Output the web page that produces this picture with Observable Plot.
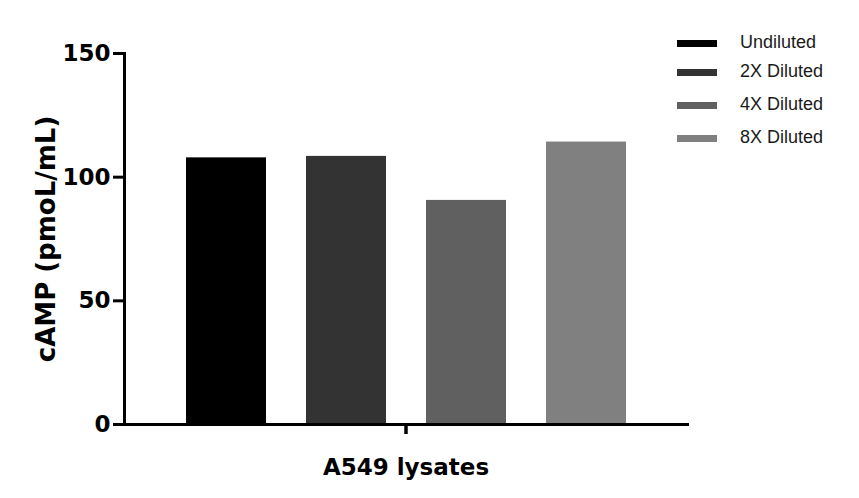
<!DOCTYPE html>
<html>
<head>
<meta charset="utf-8">
<script src="https://cdn.jsdelivr.net/npm/d3@7"></script>
<script src="https://cdn.jsdelivr.net/npm/@observablehq/plot@0.6"></script>
<style>
  html, body { margin: 0; padding: 0; background: #fff; }
  #wrap { position: relative; width: 859px; height: 498px; }
  #legend { position: absolute; left: 0; top: 0; font-family: "Liberation Sans", Arial, sans-serif; font-size: 18px; color: #1a1a1a; }
  .item { position: absolute; white-space: nowrap; }
  .sw { position: absolute; width: 40px; height: 7px; }
</style>
</head>
<body>
<div id="wrap"><div id="legend"></div></div>
<script>
const group = "A549 lysates";
const series = ["Undiluted", "2X Diluted", "4X Diluted", "8X Diluted"];
const values = [107.8, 108.4, 90.6, 114.2];
const colors = ["#000000", "#333333", "#606060", "#808080"];
const yTicks = [0, 50, 100, 150];
const yLabel = "cAMP (pmoL/mL)";

const data = series.map((s, i) => ({group, series: s, value: values[i]}));
const tickFont = "'DejaVu Sans', sans-serif";

const chart = Plot.plot({
  width: 859,
  height: 498,
  marginLeft: 124,
  marginRight: 172,
  marginTop: 53,
  marginBottom: 74,
  style: {background: "#fff", color: "#000"},
  fx: {domain: [group], padding: 0, label: null},
  x: {domain: series, paddingInner: 1/3, paddingOuter: 0.5, axis: null},
  y: {domain: [0, 150], axis: null},
  color: {domain: series, range: colors},
  marks: [
    Plot.barY(data, {fx: "group", x: "series", y: "value", fill: "series"}),
    Plot.axisY({ticks: yTicks, tickSize: 11, tickPadding: 3, strokeWidth: 3, fontSize: 23, fontWeight: "bold", fontFamily: tickFont, label: null}),
    Plot.axisFx({anchor: "bottom", tickSize: 10, tickPadding: 24, strokeWidth: 3.5, fontSize: 23, fontWeight: "bold", fontFamily: tickFont, label: null}),
    Plot.frame({anchor: "left", strokeWidth: 3, stroke: "#000"}),
    Plot.frame({anchor: "bottom", strokeWidth: 3, stroke: "#000"}),
    Plot.text([yLabel], {frameAnchor: "left", textAnchor: "middle", dx: -78, rotate: -90, fontSize: 26, fontWeight: "bold", fontFamily: tickFont, fill: "#000"})
  ]
});
document.getElementById("wrap").prepend(chart);

// legend
const legendRows = [43, 72, 105, 138];
const legend = document.getElementById("legend");
series.forEach((s, i) => {
  const sw = document.createElement("div");
  sw.className = "sw";
  sw.style.left = "677px";
  sw.style.top = (legendRows[i] - 3.5) + "px";
  sw.style.background = colors[i];
  legend.appendChild(sw);
  const t = document.createElement("div");
  t.className = "item";
  t.style.left = "740px";
  t.style.top = (legendRows[i] - 11) + "px";
  t.textContent = s;
  legend.appendChild(t);
});
</script>
</body>
</html>
